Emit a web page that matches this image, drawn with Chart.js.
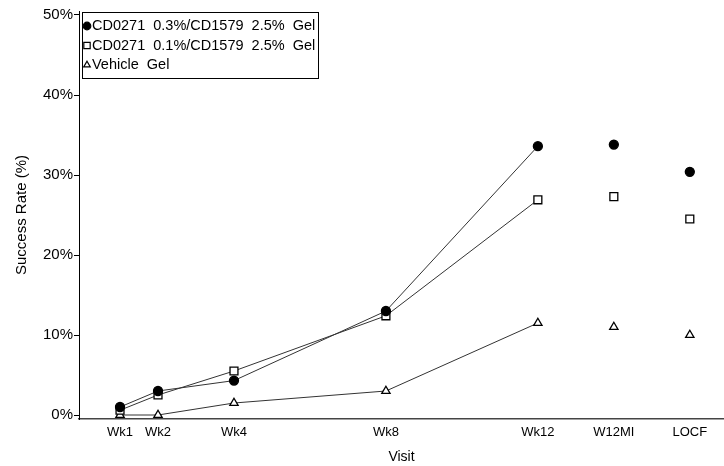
<!DOCTYPE html>
<html>
<head>
<meta charset="utf-8">
<script src="https://cdn.jsdelivr.net/npm/chart.js@4/dist/chart.umd.min.js"></script>
<style>
  html, body { margin: 0; padding: 0; background: #fff; overflow: hidden; }
  #wrap { position: relative; width: 724px; height: 466px; }
  canvas { display: block; }
</style>
</head>
<body>
<div id="wrap"><canvas id="successChart"></canvas></div>
<script>
// visit positions (weeks) and their labels
const visitWeeks = [1, 2, 4, 8, 12, 14, 16];
const visitLabels = ["Wk1", "Wk2", "Wk4", "Wk8", "Wk12", "W12MI", "LOCF"];
const yTicks = [0, 10, 20, 30, 40, 50];

const seriesNames = [
  "CD0271  0.3%/CD1579  2.5%  Gel",
  "CD0271  0.1%/CD1579  2.5%  Gel",
  "Vehicle  Gel"
];
const highDose = [1.0, 3.0, 4.3, 13.0, 33.6, 33.8, 30.4];
const lowDose  = [0.6, 2.5, 5.5, 12.4, 26.9, 27.3, 24.5];
const vehicle  = [0.0, 0.0, 1.5, 3.0, 11.5, 11.0, 10.0];

// last connected point: Wk12
const lastLinked = 4;

const FONT = "'Liberation Sans', Arial, sans-serif";

function toPoints(vals) {
  return vals.map((v, i) => ({ x: visitWeeks[i], y: v }));
}

const markerStyles = [
  { pointStyle: "circle",   pointRadius: 4.5, pointBackgroundColor: "#000" },
  { pointStyle: "rect",     pointRadius: 5.6, pointBackgroundColor: "#fff" },
  { pointStyle: "triangle", pointRadius: 4.8, pointBackgroundColor: "#fff" }
];

const datasets = [highDose, lowDose, vehicle].map((vals, i) => ({
  label: seriesNames[i],
  data: toPoints(vals),
  borderColor: "#333",
  borderWidth: 1,
  pointBorderColor: "#000",
  pointBorderWidth: 1.3,
  ...markerStyles[i],
  segment: {
    borderColor: ctx => ctx.p0DataIndex >= lastLinked ? "rgba(0,0,0,0)" : "#333"
  }
}));

// legend drawn inside the plot, top-left, with a box
const boxLegend = {
  id: "boxLegend",
  afterDraw(chart) {
    const c = chart.ctx;
    const left = chart.chartArea.left + 3;
    c.save();
    c.font = "14.5px " + FONT;
    c.textBaseline = "middle";
    c.strokeStyle = "#000";
    c.lineWidth = 1;
    c.strokeRect(left + 0.5, 12.5, 236, 66);
    chart.data.datasets.forEach((ds, i) => {
      const y = 26 + i * 19.5;
      c.fillStyle = ds.pointBackgroundColor;
      c.strokeStyle = "#000";
      c.lineWidth = 1.2;
      Chart.helpers.drawPoint(c, {
        pointStyle: ds.pointStyle,
        radius: ds.pointStyle === "rect" ? 4.5 : 3.8,
        borderWidth: 1.2
      }, left + 5, y);
      c.fillStyle = "#000";
      c.fillText(ds.label, left + 10, y);
    });
    c.restore();
  }
};

new Chart(document.getElementById("successChart"), {
  type: "line",
  data: { datasets },
  plugins: [boxLegend],
  options: {
    responsive: true,
    maintainAspectRatio: false,
    animation: false,
    layout: { autoPadding: false, padding: { top: 11, right: 0, left: 0, bottom: 0 } },
    plugins: {
      legend: { display: false },
      tooltip: { enabled: false }
    },
    scales: {
      x: {
        type: "linear",
        min: -0.08,
        max: 16.9,
        afterBuildTicks: axis => { axis.ticks = visitWeeks.map(v => ({ value: v })); },
        afterFit: axis => { axis.height = 47; },
        ticks: {
          color: "#000",
          font: { family: FONT, size: 13 },
          padding: 6,
          maxRotation: 0,
          autoSkip: false,
          callback: v => visitLabels[visitWeeks.indexOf(v)] || ""
        },
        grid: { display: false, drawTicks: false },
        border: { color: "#444", width: 1.5 },
        title: {
          display: true,
          text: "Visit",
          color: "#000",
          font: { family: FONT, size: 14 },
          padding: { top: 0, bottom: 0 }
        }
      },
      y: {
        min: -0.5,
        max: 50.5,
        afterBuildTicks: axis => { axis.ticks = yTicks.map(v => ({ value: v })); },
        afterFit: axis => { axis.width = 79; },
        ticks: {
          color: "#000",
          font: { family: FONT, size: 15 },
          padding: 1,
          callback: v => v + "%"
        },
        grid: { display: true, drawOnChartArea: false, drawTicks: true, tickLength: 5, color: "#000" },
        border: { color: "#000", width: 1 },
        title: {
          display: true,
          text: "Success Rate (%)",
          color: "#000",
          font: { family: FONT, size: 15 },
          padding: { top: 13, bottom: 0 }
        }
      }
    }
  }
});
</script>
</body>
</html>
